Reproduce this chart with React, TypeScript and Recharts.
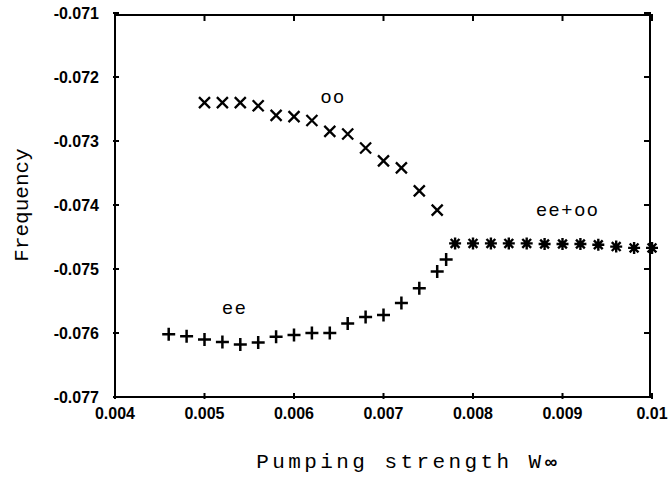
import React from 'react';
import { ScatterChart, Scatter, XAxis, YAxis, ReferenceDot } from 'recharts';

// "oo" branch (x marks)
const ooX = [0.005, 0.0052, 0.0054, 0.0056, 0.0058, 0.006, 0.0062, 0.0064, 0.0066, 0.0068, 0.007, 0.0072, 0.0074, 0.0076];
const ooY = [-0.0724, -0.0724, -0.0724, -0.07245, -0.0726, -0.07262, -0.07268, -0.07285, -0.07289, -0.07311, -0.07331, -0.07342, -0.07378, -0.07408];

// "ee" branch (+ marks)
const eeX = [0.0046, 0.0048, 0.005, 0.0052, 0.0054, 0.0056, 0.0058, 0.006, 0.0062, 0.0064, 0.0066, 0.0068, 0.007, 0.0072, 0.0074, 0.0076, 0.0077];
const eeY = [-0.07602, -0.07605, -0.0761, -0.07614, -0.07618, -0.07615, -0.07606, -0.07603, -0.076, -0.076, -0.07585, -0.07575, -0.07572, -0.07553, -0.0753, -0.07504, -0.07485];

// merged "ee+oo" branch (* marks)
const mixX = [0.0078, 0.008, 0.0082, 0.0084, 0.0086, 0.0088, 0.009, 0.0092, 0.0094, 0.0096, 0.0098, 0.01];
const mixY = [-0.0746, -0.0746, -0.0746, -0.0746, -0.0746, -0.07461, -0.07461, -0.07461, -0.07462, -0.07465, -0.07467, -0.07467];

const xTicks = [0.004, 0.005, 0.006, 0.007, 0.008, 0.009, 0.01];
const yTicks = [-0.077, -0.076, -0.075, -0.074, -0.073, -0.072, -0.071];

const noteText = ['oo', 'ee', 'ee+oo'];
const noteX = [0.00644, 0.00534, 0.00906];
const noteY = [-0.07231, -0.07561, -0.07408];

const toPoints = (xs: number[], ys: number[]) => xs.map((x, i) => ({ x, y: ys[i] }));

const tickFont = '"Liberation Sans", Arial, Helvetica, sans-serif';
const monoFont = '"Courier New", "Liberation Mono", monospace';

// chart layout
const W = 668;
const H = 483;
const margin = { top: 13, right: 16, bottom: 0, left: 0 };
const yAxisWidth = 115;
const xAxisHeight = 86;
const plotW = W - margin.left - margin.right - yAxisWidth;
const plotH = H - margin.top - margin.bottom - xAxisHeight;
const tickLen = 6;

const CrossMark = (p: any) => {
  const { cx, cy } = p;
  const r = 5.5;
  return (
    <path
      d={`M${cx - r},${cy - r}L${cx + r},${cy + r}M${cx - r},${cy + r}L${cx + r},${cy - r}`}
      stroke="#000"
      strokeWidth={2.3}
      fill="none"
    />
  );
};

const PlusMark = (p: any) => {
  const { cx, cy } = p;
  const r = 6.5;
  return (
    <path
      d={`M${cx - r},${cy}L${cx + r},${cy}M${cx},${cy - r}L${cx},${cy + r}`}
      stroke="#000"
      strokeWidth={2.5}
      fill="none"
    />
  );
};

const StarMark = (p: any) => {
  const { cx, cy } = p;
  const r = 6;
  const d = 4.4;
  return (
    <path
      d={`M${cx - r},${cy}L${cx + r},${cy}M${cx},${cy - r}L${cx},${cy + r}M${cx - d},${cy - d}L${cx + d},${cy + d}M${cx - d},${cy + d}L${cx + d},${cy - d}`}
      stroke="#000"
      strokeWidth={2.4}
      fill="none"
    />
  );
};

// bottom tick: inward tick on bottom and top border, label below; first tick also draws the top border
const BottomTick = ({ x, y, payload, index }: any) => {
  const top = y - plotH;
  return (
    <g>
      <line x1={x} x2={x} y1={y} y2={y - tickLen} stroke="#000" strokeWidth={2} />
      <line x1={x} x2={x} y1={top} y2={top + tickLen} stroke="#000" strokeWidth={2} />
      {index === 0 && (
        <line x1={x - 1} x2={x + plotW + 1} y1={top} y2={top} stroke="#000" strokeWidth={2} />
      )}
      <text x={x} y={y + 20} textAnchor="middle" fontSize={16} fontWeight="bold" fontFamily={tickFont} fill="#000">
        {String(payload.value)}
      </text>
    </g>
  );
};

// left tick: inward tick on left and right border, label left; first tick also draws the right border
const LeftTick = ({ x, y, payload, index }: any) => {
  const right = x + plotW;
  return (
    <g>
      <line x1={x} x2={x + tickLen} y1={y} y2={y} stroke="#000" strokeWidth={2} />
      <line x1={right} x2={right - tickLen} y1={y} y2={y} stroke="#000" strokeWidth={2} />
      {index === 0 && (
        <line x1={right} x2={right} y1={y + 1} y2={y - plotH - 1} stroke="#000" strokeWidth={2} />
      )}
      <text x={x - 14} y={y + 6} textAnchor="end" fontSize={16} fontWeight="bold" fontFamily={tickFont} fill="#000">
        {String(payload.value)}
      </text>
    </g>
  );
};

const XTitle = ({ viewBox }: any) => (
  <text
    x={viewBox.x + viewBox.width / 2 + 25}
    y={viewBox.y + 71}
    textAnchor="middle"
    fontSize={21}
    letterSpacing={3.4}
    fontFamily={monoFont}
    fill="#000"
  >
    Pumping strength W<tspan fontWeight="bold" fontFamily={tickFont} fontSize={18}>∞</tspan>
  </text>
);

const YTitle = ({ viewBox }: any) => {
  const cx = 22;
  const cy = viewBox.y + viewBox.height / 2;
  return (
    <text
      x={cx}
      y={cy}
      transform={`rotate(-90 ${cx} ${cy})`}
      textAnchor="middle"
      dominantBaseline="central"
      fontSize={21}
      fontFamily={monoFont}
      fill="#000"
    >
      Frequency
    </text>
  );
};

const Note = (text: string) => (p: any) => (
  <text
    x={p.cx}
    y={p.cy + 6}
    textAnchor="middle"
    fontSize={19}
    letterSpacing={2}
    fontFamily={tickFont}
    fill="#000"
  >
    {text}
  </text>
);

const axisLine = { stroke: '#000', strokeWidth: 2 };
const xDomain = [xTicks[0], xTicks[xTicks.length - 1]];
const yDomain = [yTicks[0], yTicks[yTicks.length - 1]];

export default function App() {
  return (
    <div style={{ position: 'absolute', left: 0, top: 0, background: '#fff' }}>
      <ScatterChart width={W} height={H} margin={margin}>
        <XAxis
          dataKey="x"
          type="number"
          domain={xDomain}
          ticks={xTicks}
          interval={0}
          height={xAxisHeight}
          tickSize={0}
          tickLine={false}
          tick={BottomTick}
          axisLine={axisLine}
          label={{ content: XTitle }}
        />
        <YAxis
          dataKey="y"
          type="number"
          domain={yDomain}
          ticks={yTicks}
          interval={0}
          width={yAxisWidth}
          tickSize={0}
          tickLine={false}
          tick={LeftTick}
          axisLine={axisLine}
          label={{ content: YTitle }}
        />
        <Scatter data={toPoints(ooX, ooY)} shape={CrossMark} isAnimationActive={false} />
        <Scatter data={toPoints(eeX, eeY)} shape={PlusMark} isAnimationActive={false} />
        <Scatter data={toPoints(mixX, mixY)} shape={StarMark} isAnimationActive={false} />
        {noteText.map((t, i) => (
          <ReferenceDot key={t} x={noteX[i]} y={noteY[i]} r={0} shape={Note(t)} ifOverflow="visible" />
        ))}
      </ScatterChart>
    </div>
  );
}
